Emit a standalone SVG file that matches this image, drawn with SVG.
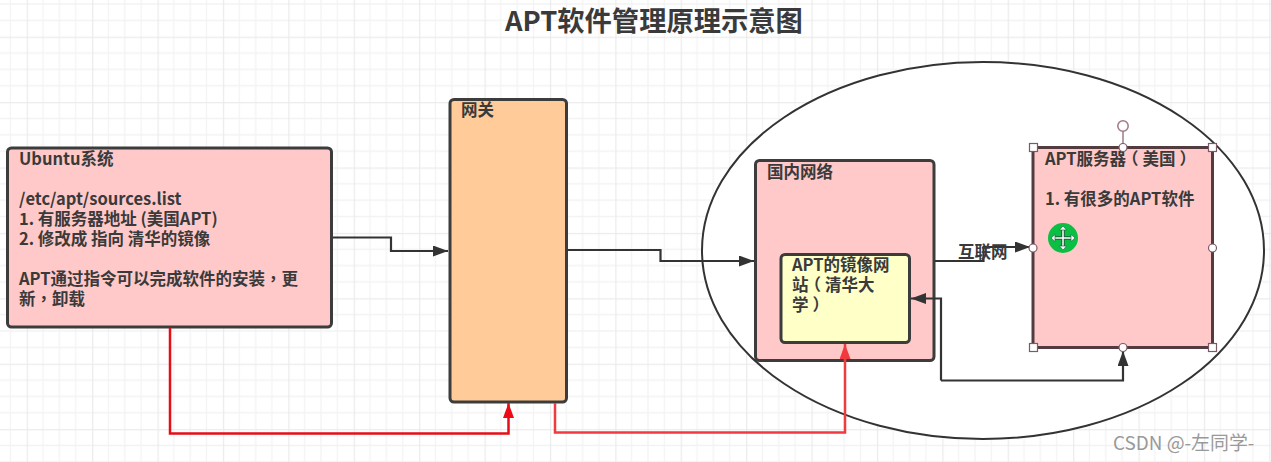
<svg xmlns="http://www.w3.org/2000/svg" width="1271" height="462" viewBox="0 0 1271 462">
<style>
text{font-family:"Noto Sans CJK SC","Noto Sans",sans-serif;font-weight:700;font-size:16.5px;fill:#3a3a3a}
.tc{font-family:"Noto Sans CJK TC","Noto Sans",sans-serif}
.box{stroke:#3c3c3c;stroke-width:3}
.pink{fill:#ffc9c9}
.con{fill:none;stroke:#333;stroke-width:2.2}
.red1{fill:none;stroke:#e60d17;stroke-width:2.5}
.red2{fill:none;stroke:#f03a3f;stroke-width:2.5}
.sq{fill:#fff;stroke:#7a5a68;stroke-width:1.2}
</style>
<defs>
<pattern id="grid" x="26.7" y="36.7" width="65.4" height="65.4" patternUnits="userSpaceOnUse">
<path d="M16.35 0V65.4M32.7 0V65.4M49.05 0V65.4M0 16.35H65.4M0 32.7H65.4M0 49.05H65.4" fill="none" stroke="#f3f3f3" stroke-width="1.3"/>
<path d="M0.5 0V65.4M0 0.5H65.4" fill="none" stroke="#ebebeb" stroke-width="1.5"/>
</pattern>
<marker id="ab" markerUnits="userSpaceOnUse" markerWidth="16" markerHeight="12" refX="15" refY="5.5" orient="auto"><path d="M0 0L15 5.5L0 11Z" fill="#333"/></marker>
<marker id="ar" markerUnits="userSpaceOnUse" markerWidth="16" markerHeight="12" refX="15" refY="5.5" orient="auto"><path d="M0 0L15 5.5L0 11Z" fill="#ee0a14"/></marker>
<marker id="ar2" markerUnits="userSpaceOnUse" markerWidth="16" markerHeight="12" refX="15" refY="5.5" orient="auto"><path d="M0 0L15 5.5L0 11Z" fill="#f03a3f"/></marker>
</defs>
<rect width="1271" height="462" fill="#fff"/>
<rect width="1271" height="462" fill="url(#grid)"/>
<text id="title" x="505" y="31" style="font-size:27.3px">APT软件管理原理示意图</text>
<g id="internet-zone"><ellipse cx="983" cy="250.500" rx="281" ry="188.500" fill="#fff" stroke="#333" stroke-width="2"/></g>
<g id="ubuntu">
<rect class="box pink" x="7.500" y="148" width="324" height="179" rx="4"/>
<text x="19" y="165">Ubuntu系统<tspan x="19" y="205">/etc/apt/sources.list</tspan><tspan x="19" y="225">1. 有服务器地址 (美国APT)</tspan><tspan x="19" y="245">2. 修改成 指向 清华的镜像</tspan><tspan x="19" y="285">APT通过指令可以完成软件的安装<tspan class="tc">，</tspan>更</tspan><tspan x="19" y="305">新<tspan class="tc">，</tspan>卸载</tspan></text>
</g>
<g id="gateway">
<rect class="box" x="450" y="99.500" width="116.500" height="302.500" rx="4" fill="#ffcb99"/>
<text x="461" y="116">网关</text>
</g>
<g id="domestic">
<rect class="box pink" x="755.500" y="160.500" width="178.500" height="200" rx="4"/>
<text x="767" y="178">国内网络</text>
</g>
<g id="mirror">
<rect class="box" x="781" y="254.500" width="128.500" height="88" rx="4" fill="#ffffc8"/>
<text x="792" y="271">APT的镜像网<tspan x="792" y="291">站<tspan dx="-4">（</tspan><tspan dx="4">清华大</tspan></tspan><tspan x="792" y="311">学<tspan dx="4">）</tspan></tspan></text>
</g>
<g id="server">
<rect x="1033" y="147.500" width="179.500" height="200" class="pink" stroke="#523c40" stroke-width="3"/>
<text x="1045" y="165">APT服务器<tspan dx="-4">（</tspan><tspan dx="4">美国</tspan><tspan dx="4">）</tspan><tspan x="1045" y="205">1. 有很多的APT软件</tspan></text>
</g>
<g id="connectors">
<path class="con" d="M333 237.500H391V251H448" marker-end="url(#ab)"/>
<path class="con" d="M567 250H660.500V261H754" marker-end="url(#ab)"/>
<path class="con" d="M935 261H983.500V247H1030" marker-end="url(#ab)"/>
<path class="con" d="M941 380.500V298.500H911" marker-end="url(#ab)"/>
<path class="con" d="M941 380.500H1123V351" marker-end="url(#ab)"/>
<path class="red1" d="M170 328V433.500H508.500V403" marker-end="url(#ar)"/>
<path class="red2" d="M555 403V432.500H845V344" marker-end="url(#ar2)"/>
<text x="958" y="258">互联网</text>
</g>
<g id="selection">
<path d="M1123 131V147" stroke="#a0788a" stroke-width="1.500" fill="none"/>
<circle cx="1123" cy="126" r="5.200" fill="#fff" stroke="#a0788a" stroke-width="1.500"/>
<rect class="sq" x="1029.500" y="143.500" width="8" height="8"/>
<rect class="sq" x="1208.500" y="143.500" width="8" height="8"/>
<rect class="sq" x="1029.500" y="343.500" width="8" height="8"/>
<rect class="sq" x="1208.500" y="343.500" width="8" height="8"/>
<circle class="sq" cx="1123" cy="147.500" r="4"/>
<circle class="sq" cx="1123" cy="347.500" r="4"/>
<circle class="sq" cx="1033" cy="248" r="4"/>
<circle class="sq" cx="1212.500" cy="248" r="4"/>
<ellipse cx="1063" cy="238" rx="15" ry="15" fill="#0bbf45"/>
<path d="M1063 228V248M1053 238H1073" stroke="#1c5a3a" stroke-width="3.500" fill="none"/>
<path d="M1063 228V248M1053 238H1073" stroke="#fff" stroke-width="1.500" fill="none"/>
<path d="M1063 226l3.500 4h-7ZM1063 250l3.500-4h-7ZM1051 238l4-3.500v7ZM1075 238l-4-3.500v7Z" fill="#fff" stroke="#1c5a3a" stroke-width=".6"/>
</g>
<text id="watermark" x="1113" y="450" style="font-size:18.900px;font-weight:400;fill:#999">CSDN @-左同学-</text>
</svg>
